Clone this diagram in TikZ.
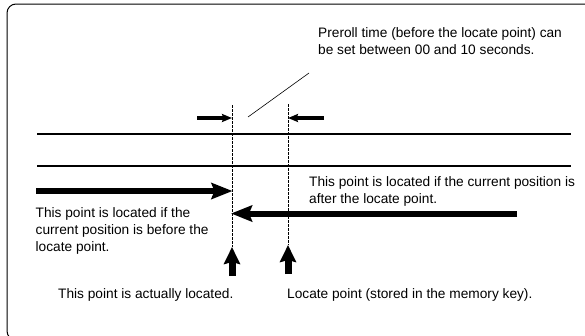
\documentclass[tikz,border=0pt]{standalone}
\usepackage{fontspec}
\setmainfont{Liberation Sans}
\usetikzlibrary{arrows.meta}
\begin{document}
\begin{tikzpicture}[x=1pt,y=-1pt,
  txt/.style={inner sep=0pt,align=left,font=\fontsize{13.7}{17}\selectfont},
  rule/.style={line width=1.1pt},
  guide/.style={line width=0.7pt,dash pattern=on 2.5pt off 1.5pt},
  bigarrow/.style={line width=6pt,-{Stealth[length=21pt,width=16pt,inset=3pt]}},
  uparrow/.style={line width=7pt,-{Stealth[length=17pt,width=16pt,inset=2pt]}},
  smallarrow/.style={line width=3.3pt,-{Stealth[length=10pt,width=8pt,inset=1.5pt]}}]
\clip (0,0) rectangle (585,335);
\fill[white] (0,0) rectangle (585,335);
\draw[line width=1pt,rounded corners=9pt] (7,4) rectangle (640,340);
% texts (base anchor = baseline of the last line)
\node[txt,anchor=base west] (preroll) at (318,54) {Preroll time (before the locate point) can\\be set between 00 and 10 seconds.};
\node[txt,anchor=base west] (after) at (309,203) {This point is located if the current position is\\after the locate point.};
\node[txt,anchor=base west] (before) at (35.5,251.5) {This point is located if the\\current position is before the\\locate point.};
\node[txt,anchor=base west] (actual) at (58,298) {This point is actually located.};
\node[txt,anchor=base west] (locate) at (287,298) {Locate point (stored in the memory key).};
% coordinates
\coordinate (lt) at (309,73); \coordinate (lb) at (248,117);
\coordinate (d1t) at (232,105); \coordinate (d1b) at (232,247);
\coordinate (d2t) at (288,104); \coordinate (d2b) at (288,245);
\coordinate (r1a) at (37,134); \coordinate (r1b) at (571,134);
\coordinate (r2a) at (37,166); \coordinate (r2b) at (571,166);
\coordinate (sa1) at (197,118); \coordinate (sa2) at (324,118);
\coordinate (ba1) at (36,191); \coordinate (ba1t) at (232.5,191);
\coordinate (ba2) at (517,213.5); \coordinate (ba2t) at (231,213.5);
\coordinate (ua1) at (232,276); \coordinate (ua2) at (288,274);
% drawing
\draw[line width=0.6pt] (lt) -- (lb);
\draw[guide] (d1t) -- (d1b);
\draw[guide] (d2t) -- (d2b);
\draw[rule] (r1a) -- (r1b);
\draw[rule] (r2a) -- (r2b);
\draw[smallarrow] (sa1) -- (d1t |- sa1);
\draw[smallarrow] (sa2) -- (d2t |- sa2);
\draw[bigarrow] (ba1) -- (ba1t);
\draw[bigarrow] (ba2) -- (ba2t);
\draw[uparrow] (ua1) -- (d1b);
\draw[uparrow] (ua2) -- (d2b);
\end{tikzpicture}
\end{document}
